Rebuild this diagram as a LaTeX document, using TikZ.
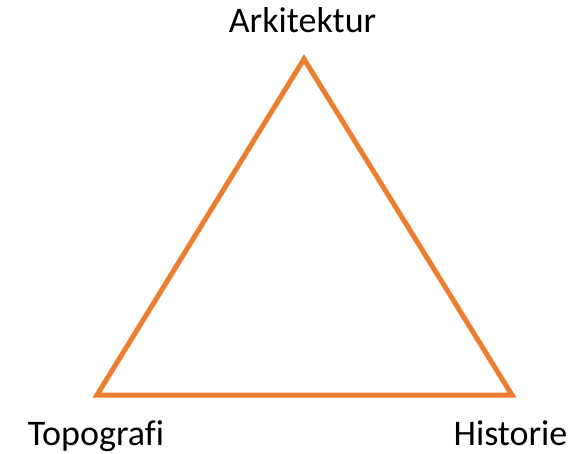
\documentclass[tikz,border=0pt]{standalone}
\usepackage{fontspec}
\setmainfont[Ligatures={NoCommon}]{Carlito}
\definecolor{triorange}{HTML}{ED7D31}
\begin{document}
\begin{tikzpicture}[x=1pt,y=-1pt,
  lbl/.style={font=\fontsize{36}{40}\selectfont, inner sep=0pt, anchor=base},
  tri/.style={draw=triorange, line width=5pt, line join=miter}]
\useasboundingbox (0,0) rectangle (581,454);
\coordinate (A) at (304,59);
\coordinate (B) at (97,395);
\coordinate (C) at (512,395);
\draw[tri] (A) -- (B) -- (C) -- cycle;
\node[lbl] (la) at (302.5,33) {Arkitektur};
\node[lbl] (lb) at (96,445) {Topografi};
\node[lbl] (lc) at (510.5,445) {Historie};
\end{tikzpicture}
\end{document}
